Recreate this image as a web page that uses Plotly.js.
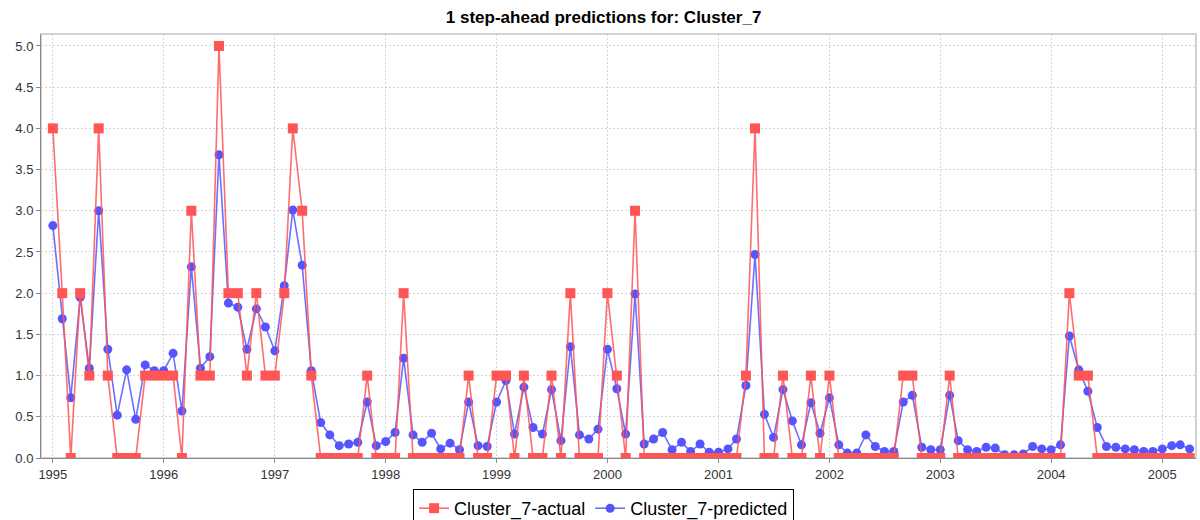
<!DOCTYPE html>
<html>
<head>
<meta charset="utf-8">
<script src="https://cdn.plot.ly/plotly-3.0.1.min.js"></script>
<style>
  html, body { margin: 0; padding: 0; background: #ffffff; }
  #chart { width: 1200px; height: 520px; }
</style>
</head>
<body>
<div id="chart"></div>
<script>
// Monthly dates 1995-01 .. 2005-04
const months = [
  "1995-01-01","1995-02-01","1995-03-01","1995-04-01","1995-05-01","1995-06-01","1995-07-01","1995-08-01","1995-09-01","1995-10-01","1995-11-01","1995-12-01",
  "1996-01-01","1996-02-01","1996-03-01","1996-04-01","1996-05-01","1996-06-01","1996-07-01","1996-08-01","1996-09-01","1996-10-01","1996-11-01","1996-12-01",
  "1997-01-01","1997-02-01","1997-03-01","1997-04-01","1997-05-01","1997-06-01","1997-07-01","1997-08-01","1997-09-01","1997-10-01","1997-11-01","1997-12-01",
  "1998-01-01","1998-02-01","1998-03-01","1998-04-01","1998-05-01","1998-06-01","1998-07-01","1998-08-01","1998-09-01","1998-10-01","1998-11-01","1998-12-01",
  "1999-01-01","1999-02-01","1999-03-01","1999-04-01","1999-05-01","1999-06-01","1999-07-01","1999-08-01","1999-09-01","1999-10-01","1999-11-01","1999-12-01",
  "2000-01-01","2000-02-01","2000-03-01","2000-04-01","2000-05-01","2000-06-01","2000-07-01","2000-08-01","2000-09-01","2000-10-01","2000-11-01","2000-12-01",
  "2001-01-01","2001-02-01","2001-03-01","2001-04-01","2001-05-01","2001-06-01","2001-07-01","2001-08-01","2001-09-01","2001-10-01","2001-11-01","2001-12-01",
  "2002-01-01","2002-02-01","2002-03-01","2002-04-01","2002-05-01","2002-06-01","2002-07-01","2002-08-01","2002-09-01","2002-10-01","2002-11-01","2002-12-01",
  "2003-01-01","2003-02-01","2003-03-01","2003-04-01","2003-05-01","2003-06-01","2003-07-01","2003-08-01","2003-09-01","2003-10-01","2003-11-01","2003-12-01",
  "2004-01-01","2004-02-01","2004-03-01","2004-04-01","2004-05-01","2004-06-01","2004-07-01","2004-08-01","2004-09-01","2004-10-01","2004-11-01","2004-12-01",
  "2005-01-01","2005-02-01","2005-03-01","2005-04-01"
];

const actual = [
  4,2,0,2,1,4,1,0,0,0,1,1,
  1,1,0,3,1,1,5,2,2,1,2,1,
  1,2,4,3,1,0,0,0,0,0,1,0,
  0,0,2,0,0,0,0,0,0,1,0,0,
  1,1,0,1,0,0,1,0,2,0,0,0,
  2,1,0,3,0,0,0,0,0,0,0,0,
  0,0,0,1,4,0,0,1,0,0,1,0,
  1,0,0,0,0,0,0,0,1,1,0,0,
  0,1,0,0,0,0,0,0,0,0,0,0,
  0,0,2,1,1,0,0,0,0,0,0,0,
  0,0,0,0
];

const predicted = [
  2.82,1.69,0.73,1.95,1.09,3.00,1.32,0.52,1.07,0.47,1.13,1.06,
  1.06,1.27,0.57,2.32,1.09,1.23,3.68,1.88,1.83,1.32,1.81,1.59,
  1.30,2.09,3.01,2.34,1.06,0.43,0.28,0.15,0.17,0.19,0.68,0.15,
  0.20,0.31,1.21,0.28,0.19,0.30,0.11,0.18,0.10,0.68,0.15,0.14,
  0.68,0.94,0.29,0.86,0.37,0.29,0.83,0.21,1.35,0.28,0.23,0.35,
  1.32,0.84,0.29,1.99,0.17,0.23,0.31,0.10,0.19,0.08,0.17,0.07,
  0.07,0.11,0.23,0.88,2.47,0.53,0.25,0.83,0.45,0.16,0.67,0.30,
  0.73,0.16,0.06,0.06,0.28,0.14,0.08,0.08,0.68,0.76,0.13,0.10,
  0.10,0.76,0.21,0.10,0.08,0.13,0.12,0.04,0.04,0.05,0.14,0.11,
  0.10,0.16,1.48,1.07,0.81,0.37,0.14,0.13,0.11,0.10,0.08,0.08,
  0.11,0.15,0.16,0.11
];

const seriesNames = ["Cluster_7-actual", "Cluster_7-predicted"];
const chartTitle = "1 step-ahead predictions for: Cluster_7";

const FONT = "Liberation Sans, Arial, sans-serif";

const tracePred = {
  x: months, y: predicted, name: seriesNames[1],
  type: "scatter", mode: "lines+markers",
  line: { color: "rgba(85,85,255,0.85)", width: 1.6 },
  marker: { symbol: "circle", size: 9, color: "#5555FF", line: { width: 0 } }
};
const traceAct = {
  x: months, y: actual, name: seriesNames[0],
  type: "scatter", mode: "lines+markers",
  line: { color: "rgba(255,85,85,0.85)", width: 1.6 },
  marker: { symbol: "square", size: 10, color: "#FF5555", line: { width: 0 } }
};

const layout = {
  width: 1200, height: 520,
  margin: { l: 41, r: 4, t: 34, b: 62, pad: 0, autoexpand: false },
  paper_bgcolor: "#ffffff",
  plot_bgcolor: "#ffffff",
  font: { family: FONT, size: 13, color: "#333333" },
  title: {
    text: "<b>" + chartTitle + "</b>",
    font: { family: FONT, size: 17, color: "#000000" },
    xref: "container", x: 0.503, xanchor: "center",
    yref: "container", y: 0.968, yanchor: "middle"
  },
  xaxis: {
    type: "date",
    range: ["1994-11-23", "2005-04-22"],
    tick0: "1995-01-01", dtick: "M12", tickformat: "%Y",
    showgrid: true, gridcolor: "#d4d4d4", gridwidth: 1, griddash: "2px,2px",
    showline: true, linecolor: "#8a8a8a", linewidth: 1,
    ticks: "outside", ticklen: 4, tickcolor: "#8a8a8a",
    tickfont: { family: FONT, size: 13, color: "#333333" },
    zeroline: false, fixedrange: true, automargin: false
  },
  yaxis: {
    range: [0, 5.145],
    tick0: 0, dtick: 0.5, tickformat: ".1f",
    showgrid: true, gridcolor: "#d4d4d4", gridwidth: 1, griddash: "2px,2px",
    showline: true, linecolor: "#8a8a8a", linewidth: 1,
    ticks: "outside", ticklen: 4, tickcolor: "#8a8a8a",
    tickfont: { family: FONT, size: 13, color: "#333333" },
    zeroline: false, fixedrange: true, automargin: false
  },
  shapes: [{
    type: "rect", xref: "paper", yref: "paper", x0: 0, x1: 1, y0: 0, y1: 1,
    line: { color: "#c4c4c4", width: 1.5 }, layer: "below"
  }],
  showlegend: true,
  legend: {
    orientation: "h",
    traceorder: "reversed",
    xref: "container", x: 0.503, xanchor: "center",
    yref: "container", y: 0.0596, yanchor: "top",
    bordercolor: "#000000", borderwidth: 1,
    bgcolor: "#ffffff",
    font: { family: FONT, size: 18, color: "#000000" },
    itemwidth: 30
  }
};

Plotly.newPlot("chart", [tracePred, traceAct], layout, { displayModeBar: false, staticPlot: true });
</script>
</body>
</html>
